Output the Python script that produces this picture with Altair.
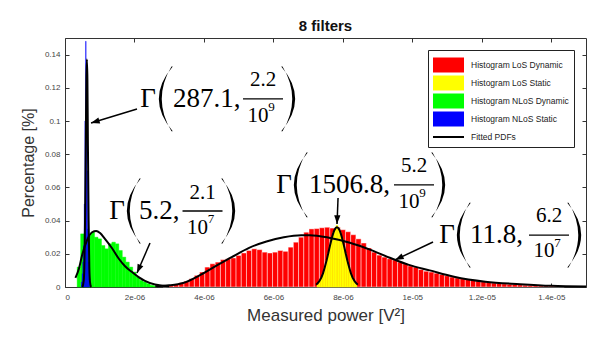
import altair as alt
import pandas as pd

U = 1e-6  # power unit used in the arrays below (V^2)

# ---------------- histogram data (bin start, bin width, heights in %) ----------------
red_start = 2.825
red_width = 0.15
red_heights = [0.0005, 0.001, 0.0015, 0.0025, 0.0035, 0.005, 0.007, 0.009, 0.012, 0.014,
               0.015, 0.0165, 0.017, 0.0175, 0.019, 0.0205, 0.022, 0.023, 0.0225, 0.021,
               0.0205, 0.021, 0.022, 0.0215, 0.024, 0.027, 0.030, 0.033, 0.035, 0.0352,
               0.0357, 0.036, 0.0355, 0.036, 0.0345, 0.0333, 0.0315, 0.029, 0.0265, 0.0235,
               0.021, 0.0192, 0.018, 0.017, 0.0163, 0.015, 0.014, 0.0127, 0.012, 0.0105,
               0.0095, 0.009, 0.0083, 0.0075, 0.0068, 0.006, 0.0055, 0.005, 0.0045, 0.004,
               0.0036, 0.0032, 0.0028, 0.0024, 0.0022, 0.0019, 0.0017, 0.0015, 0.0013, 0.0011,
               0.001, 0.0009, 0.0008, 0.0007, 0.0006, 0.0005, 0.0004]

green_start = 0.35
green_width = 0.1
green_heights = [0.012, 0.032, 0.030, 0.031, 0.033, 0.030, 0.029, 0.025, 0.023, 0.026,
                 0.027, 0.026, 0.022, 0.018, 0.015, 0.012, 0.009, 0.006, 0.004, 0.003,
                 0.002, 0.001, 0.0005]

blue_start = 0.47
blue_width = 0.02
blue_heights = [0.003, 0.008, 0.015, 0.025, 0.05, 0.10, 0.148, 0.12, 0.07, 0.035, 0.015, 0.005]

yellow_start = 7.255
yellow_width = 0.05
yellow_heights = [0.0015, 0.0037, 0.0058, 0.0084, 0.0118, 0.0159, 0.0203, 0.025, 0.0292, 0.0329,
                  0.0355, 0.0372, 0.0355, 0.0329, 0.0292, 0.025, 0.0203, 0.0159, 0.0118, 0.0084,
                  0.0058, 0.0037, 0.0015]

# ---------------- fitted PDFs ----------------
fit_nlos_static_x = [0.50, 0.54, 0.56, 0.58, 0.60, 0.615, 0.63, 0.645, 0.66, 0.68, 0.70, 0.72, 0.75]
fit_nlos_static_y = [0.0, 0.004, 0.015, 0.045, 0.09, 0.125, 0.137, 0.125, 0.085, 0.04, 0.012, 0.003, 0.0]

fit_nlos_dyn_x = [0.30, 0.40, 0.49, 0.63, 0.78, 0.90, 1.01, 1.15, 1.35, 1.55, 1.73, 1.93, 2.13, 2.30, 2.59, 2.80, 3.00]
fit_nlos_dyn_y = [0.0055, 0.011, 0.019, 0.028, 0.033, 0.0338, 0.0325, 0.029, 0.0235, 0.017, 0.0125, 0.009, 0.0058, 0.0037, 0.0015, 0.0008, 0.0005]

fit_los_dyn_x = [2.6, 3.0, 3.4, 3.9, 4.4, 4.8, 5.3, 5.8, 6.3, 6.8, 7.05, 7.6, 8.2, 8.8, 9.35, 9.9, 10.5, 11.2, 12.1, 13.1, 14.0, 15.0]
fit_los_dyn_y = [0.0005, 0.001, 0.0024, 0.0073, 0.0133, 0.018, 0.0236, 0.0274, 0.030, 0.0312, 0.0312, 0.0297, 0.0267, 0.0224, 0.0176, 0.0133, 0.010, 0.0062, 0.0032, 0.0017, 0.0007, 0.0003]

fit_los_static_x = [7.23, 7.33, 7.43, 7.53, 7.63, 7.68, 7.73, 7.78, 7.83, 7.88, 7.93, 7.98, 8.03, 8.13, 8.23, 8.33, 8.43]
fit_los_static_y = [0.0013, 0.0037, 0.0084, 0.0159, 0.025, 0.0292, 0.0329, 0.0352, 0.036, 0.0352, 0.0329, 0.0292, 0.025, 0.0159, 0.0084, 0.0037, 0.0013]

# ---------------- legend ----------------
series_names = ["Histogram LoS Dynamic", "Histogram LoS Static", "Histogram NLoS Dynamic",
                "Histogram NLoS Static", "Fitted PDFs"]
series_colors = ["#ff0000", "#ffff00", "#00ff00", "#0000ff", "#000000"]

# ---------------- axes ----------------
x_ticks = [0, 2e-6, 4e-6, 6e-6, 8e-6, 1e-5, 1.2e-5, 1.4e-5]
y_ticks = [0, 0.02, 0.04, 0.06, 0.08, 0.1, 0.12, 0.14]

# ---------------- annotations (Gamma fits), data coordinates ----------------
gamma_x = [2.39, 1.497, 6.305, 10.998]
row_y = [0.1133, 0.0458, 0.0615, 0.0313]
main_txt = ["287.1,", "5.2,", "1506.8,", "11.8,"]
main_x = [3.11, 2.131, 7.025, 11.661]
lpar_x = [2.879, 1.958, 6.766, 11.459]
bar_x = [5.701, 3.959, 10.048, 13.935]
rpar_x = [6.449, 4.722, 10.768, 14.684]
num_txt = ["2.2", "2.1", "5.2", "6.2"]
num_y = [0.1244, 0.0569, 0.0726, 0.0425]
den_x = [5.557, 3.815, 9.904, 13.791]
den_y = [0.1033, 0.0358, 0.0515, 0.0214]
exp_txt = ["9", "7", "9", "7"]
exp_x = [5.946, 4.204, 10.293, 14.180]
exp_y = [0.1085, 0.0410, 0.0567, 0.0265]
arrow_x0 = [2.073, 2.447, 7.861, 10.596]
arrow_y0 = [0.1072, 0.0265, 0.0536, 0.0271]
arrow_x1 = [0.749, 2.073, 7.832, 9.502]
arrow_y1 = [0.0988, 0.0084, 0.0380, 0.0163]
arrow_angle = [253, 203.5, 182, 244.6]

# ---------------- build tables ----------------
def hist_df(start, width, heights):
    return pd.DataFrame({
        "lo": [(start + i * width) * U for i in range(len(heights))],
        "hi": [(start + (i + 1) * width) * U for i in range(len(heights))],
        "h": heights,
        "base": [0.0] * len(heights),
    })

curve_rows = []
for name, xs_, ys_ in [("nls", fit_nlos_static_x, fit_nlos_static_y),
                       ("nld", fit_nlos_dyn_x, fit_nlos_dyn_y),
                       ("ld", fit_los_dyn_x, fit_los_dyn_y),
                       ("ls", fit_los_static_x, fit_los_static_y)]:
    for i, (a, b) in enumerate(zip(xs_, ys_)):
        curve_rows.append({"curve": name, "i": i, "x": a * U, "y": b})
curves_df = pd.DataFrame(curve_rows)

ann = pd.DataFrame({
    "gx": [v * U for v in gamma_x], "ry": row_y, "main": main_txt,
    "mx": [v * U for v in main_x], "lpx": [v * U for v in lpar_x],
    "bx": [v * U for v in bar_x], "rpx": [v * U for v in rpar_x],
    "num": num_txt, "ny": num_y, "dx_": [v * U for v in den_x], "dy_": den_y,
    "exp": exp_txt, "ex": [v * U for v in exp_x], "ey": exp_y,
    "ax0": [v * U for v in arrow_x0], "ay0": arrow_y0,
    "ax1": [v * U for v in arrow_x1], "ay1": arrow_y1, "ang": arrow_angle,
    "g": ["Γ"] * 4, "ten": ["10"] * 4,
})

W, H = 521, 249
xs = alt.Scale(domain=[0, 1.5e-5], nice=False, zero=False)
ys = alt.Scale(domain=[0, 0.15], nice=False, zero=False)

SANS = "Liberation Sans"
SERIF = "Liberation Serif"

ax_x_lab = alt.Axis(values=x_ticks, ticks=False, domain=False, grid=False,
                    labelExpr="datum.value == 0 ? '0' : replace(replace(format(datum.value, '.2~e'), 'e-6', 'e-06'), 'e-5', 'e-05')",
                    labelFontSize=8, labelColor="#444", labelFont=SANS, labelPadding=6,
                    title="Measured power [V²]", titleFontSize=17, titleFontWeight="normal",
                    titleColor="#333", titleFont=SANS, titlePadding=6)
ax_y_lab = alt.Axis(values=y_ticks, ticks=False, domain=False, grid=False, format="~g",
                    labelFontSize=8, labelColor="#444", labelFont=SANS, labelPadding=5,
                    title="Percentage [%]", titleFontSize=16, titleFontWeight="normal",
                    titleColor="#333", titleFont=SANS, titlePadding=8)
tick_common = dict(labels=False, domain=False, grid=False, ticks=True, tickSize=4,
                   tickColor="#333", tickWidth=1, title=None)
ax_x_in_bottom = alt.Axis(orient="top", offset=-H, values=x_ticks, **tick_common)
ax_x_in_top = alt.Axis(orient="bottom", offset=-H, values=x_ticks, **tick_common)
ax_y_in_left = alt.Axis(orient="right", offset=-W, values=y_ticks, **tick_common)
ax_y_in_right = alt.Axis(orient="left", offset=-W, values=y_ticks, **tick_common)


def bars(df, color, xa=None, ya=None, **kw):
    return alt.Chart(df).mark_bar(color=color, **kw).encode(
        x=alt.X("lo:Q", scale=xs, axis=xa),
        x2="hi:Q",
        y=alt.Y("h:Q", scale=ys, axis=ya),
        y2="base:Q",
    )

red = bars(hist_df(red_start, red_width, red_heights), "#ff0000", ax_x_lab, ax_y_lab,
           stroke="#ffffff", strokeWidth=0.6, strokeOpacity=0.75)
green = bars(hist_df(green_start, green_width, green_heights), "#00ff00", ax_x_in_bottom, ax_y_in_left,
             stroke="#00ff00", strokeWidth=0.4)
blue = bars(hist_df(blue_start, blue_width, blue_heights), "#0000ff", ax_x_in_top, ax_y_in_right,
            stroke="#0000ff", strokeWidth=0.3)
yellow = bars(hist_df(yellow_start, yellow_width, yellow_heights), "#ffff00",
              stroke="#ffff00", strokeWidth=0.4)

curves = alt.Chart(curves_df).mark_line(color="black", strokeWidth=2, interpolate="monotone").encode(
    x=alt.X("x:Q", scale=xs, axis=None),
    y=alt.Y("y:Q", scale=ys, axis=None),
    detail="curve:N",
    order="i:Q",
)

rect_path = "M-1,-0.75H2.1V0.75H-1Z"
line_path = "M-1,-0.1H2.1V0.1H-1Z"
series_shapes = [rect_path, rect_path, rect_path, rect_path, line_path]
leg = dict(orient="top-right", offset=12, title=None, padding=5, strokeColor="#222",
           fillColor="white", labelFont=SANS, labelFontSize=8.5, labelColor="#222",
           symbolSize=400, labelOffset=18, rowPadding=0, symbolOpacity=1,
           symbolStrokeWidth=0, labelLimit=250, cornerRadius=0)
legend_layer = alt.Chart(pd.DataFrame({"series": series_names})).mark_point(
    filled=True, opacity=0).encode(
    color=alt.Color("series:N", scale=alt.Scale(domain=series_names, range=series_colors),
                    legend=alt.Legend(**leg)),
    shape=alt.Shape("series:N", scale=alt.Scale(domain=series_names, range=series_shapes),
                    legend=alt.Legend(**leg)),
)

base = alt.Chart(ann)
lpar_path = "M0.24,-1 Q-0.62,0 0.24,1 L0.2,1 Q-0.4,0 0.2,-1 Z"
rpar_path = "M-0.24,-1 Q0.62,0 -0.24,1 L-0.2,1 Q0.4,0 -0.2,-1 Z"
frac_path = "M-1,-0.033H1V0.033H-1Z"
head_path = "M0,0 L0.36,1 L-0.36,1 Z"


def pt(xf, yf, shape, size):
    return base.mark_point(filled=True, shape=shape, size=size, color="black", opacity=1).encode(
        x=alt.X(xf, type="quantitative", scale=xs, axis=None),
        y=alt.Y(yf, type="quantitative", scale=ys, axis=None),
    )


def txt(xf, yf, tf, size, align="center"):
    return base.mark_text(font=SERIF, fontSize=size, color="black", align=align,
                          baseline="middle").encode(
        x=alt.X(xf, type="quantitative", scale=xs, axis=None),
        y=alt.Y(yf, type="quantitative", scale=ys, axis=None),
        text=alt.Text(tf, type="nominal"),
    )

lpar = pt("lpx", "ry", lpar_path, 4200)
rpar = pt("rpx", "ry", rpar_path, 4200)
frac = pt("bx", "ry", frac_path, 1600)
gam = txt("gx", "ry", "g", 27)
main = txt("mx", "ry", "main", 27, align="left")
num = txt("bx", "ny", "num", 21)
den = txt("dx_", "dy_", "ten", 21)
expo = txt("ex", "ey", "exp", 13)

arrows = base.mark_rule(color="black", strokeWidth=1.5).encode(
    x=alt.X("ax0:Q", scale=xs, axis=None), y=alt.Y("ay0:Q", scale=ys, axis=None),
    x2="ax1:Q", y2="ay1:Q",
)
heads = base.mark_point(filled=True, shape=head_path, size=300, color="black", opacity=1).encode(
    x=alt.X("ax1:Q", scale=xs, axis=None), y=alt.Y("ay1:Q", scale=ys, axis=None),
    angle=alt.Angle("ang:Q", scale=None),
)

chart = alt.layer(
    red, green, blue, yellow, curves, legend_layer,
    lpar, rpar, frac, gam, main, num, den, expo, arrows, heads,
).resolve_axis(x="independent", y="independent").properties(
    width=W, height=H,
    title=alt.TitleParams("8 filters", fontSize=15, fontWeight="bold", font=SANS,
                          anchor="middle", offset=4, color="#111"),
    padding={"left": 57, "top": 30, "right": 4, "bottom": 48},
    autosize=alt.AutoSizeParams(type="none"),
).configure_view(stroke="#333", strokeWidth=1)

chart.save("out.html", embed_options={"renderer": "svg", "actions": False})
